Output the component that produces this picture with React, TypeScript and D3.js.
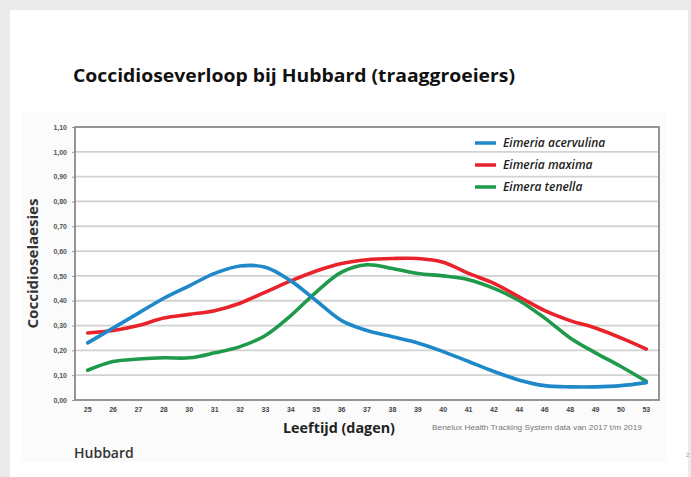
import React, { useEffect, useRef } from 'react';
import * as d3 from 'd3';

// leeftijd in dagen (categorische as)
const days = ['25', '26', '27', '28', '30', '31', '32', '33', '34', '35', '36', '37', '38', '39', '40', '41', '42', '44', '46', '48', '49', '50', '53'];

// coccidioselaesies per soort
const acervulina = [0.23, 0.29, 0.35, 0.41, 0.46, 0.51, 0.54, 0.535, 0.48, 0.40, 0.32, 0.28, 0.255, 0.23, 0.195, 0.155, 0.115, 0.08, 0.058, 0.053, 0.053, 0.058, 0.07];
const maxima = [0.27, 0.28, 0.30, 0.33, 0.345, 0.36, 0.39, 0.435, 0.48, 0.52, 0.55, 0.565, 0.57, 0.57, 0.555, 0.51, 0.47, 0.415, 0.36, 0.32, 0.29, 0.25, 0.205];
const tenella = [0.12, 0.155, 0.165, 0.17, 0.17, 0.19, 0.215, 0.26, 0.34, 0.435, 0.515, 0.545, 0.53, 0.51, 0.50, 0.485, 0.45, 0.40, 0.33, 0.25, 0.19, 0.135, 0.075];

const seriesNames = ['Eimeria acervulina', 'Eimeria maxima', 'Eimera tenella'];
const seriesColors = ['#1f88c8', '#e8232b', '#1e9a4a'];

const yTicks = [0, 0.1, 0.2, 0.3, 0.4, 0.5, 0.6, 0.7, 0.8, 0.9, 1.0, 1.1];

const App = () => {
    const svgRef = useRef(null);

    useEffect(() => {
        const svg = d3.select(svgRef.current);
        svg.selectAll('*').remove();

        const W = 691, H = 477;
        const plot = { left: 75, top: 127, right: 659, bottom: 400 };

        // page background and frame
        svg.append('rect').attr('width', W).attr('height', H).attr('fill', '#ebebeb');
        svg.append('rect').attr('x', 10).attr('y', 10).attr('width', 678).attr('height', H).attr('fill', '#ffffff');
        svg.append('rect').attr('x', 21).attr('y', 112).attr('width', 646).attr('height', 350).attr('fill', '#fbfbfb');

        // title
        svg.append('text')
           .attr('x', 73).attr('y', 82)
           .attr('font-family', 'Open Sans, sans-serif')
           .attr('font-weight', 'bold')
           .attr('font-size', 18)
           .attr('fill', '#111')
           .attr('textLength', 442)
           .attr('lengthAdjust', 'spacingAndGlyphs')
           .text('Coccidioseverloop bij Hubbard (traaggroeiers)');

        const x = d3.scaleBand().domain(days).range([plot.left, plot.right]);
        const y = d3.scaleLinear().domain([0, 1.1]).range([plot.bottom, plot.top]);

        svg.append('rect')
           .attr('x', plot.left).attr('y', plot.top)
           .attr('width', plot.right - plot.left).attr('height', plot.bottom - plot.top)
           .attr('fill', '#ffffff');

        // gridlines
        svg.append('g')
           .selectAll('line')
           .data(yTicks.slice(1, -1))
           .enter().append('line')
           .attr('x1', plot.left).attr('x2', plot.right)
           .attr('y1', d => y(d)).attr('y2', d => y(d))
           .attr('stroke', '#d2d2d2')
           .attr('stroke-width', 1.8);

        // y axis labels
        const yAxis = svg.append('g')
           .attr('transform', `translate(${plot.left},0)`)
           .call(d3.axisLeft(y).tickValues(yTicks).tickSize(3).tickFormat(d => d3.format('.2f')(d).replace('.', ',')));
        yAxis.select('.domain').remove();
        yAxis.selectAll('.tick line').attr('stroke', '#999');
        yAxis.selectAll('text')
             .attr('font-family', 'Liberation Sans, sans-serif')
             .attr('font-weight', 'bold')
             .attr('font-size', 7)
             .attr('fill', '#555')
             .attr('dx', -2);

        // x axis labels
        const xAxis = svg.append('g')
           .attr('transform', `translate(0,${plot.bottom})`)
           .call(d3.axisBottom(x).tickSize(0).tickPadding(7));
        xAxis.select('.domain').remove();
        xAxis.selectAll('text')
             .attr('font-family', 'Liberation Sans, sans-serif')
             .attr('font-weight', 'bold')
             .attr('font-size', 7)
             .attr('fill', '#444');

        // frame of plot area
        svg.append('rect')
           .attr('x', plot.left).attr('y', plot.top)
           .attr('width', plot.right - plot.left).attr('height', plot.bottom - plot.top)
           .attr('fill', 'none')
           .attr('stroke', '#8a8a8a')
           .attr('stroke-width', 1.8);

        // lines
        const allSeries = [acervulina, maxima, tenella];
        const line = d3.line()
            .x((d, i) => x(days[i]) + x.bandwidth() / 2)
            .y(d => y(d))
            .curve(d3.curveCatmullRom.alpha(0.5));

        // draw green first, then red, then blue on top
        [2, 1, 0].forEach(k => {
            svg.append('path')
               .datum(allSeries[k])
               .attr('d', line)
               .attr('fill', 'none')
               .attr('stroke', seriesColors[k])
               .attr('stroke-width', 3.6)
               .attr('stroke-linecap', 'round');
        });

        // legend
        const legend = svg.append('g');
        seriesNames.forEach((name, i) => {
            const ly = 143 + i * 22;
            legend.append('line')
                  .attr('x1', 475).attr('x2', 496)
                  .attr('y1', ly).attr('y2', ly)
                  .attr('stroke', seriesColors[i])
                  .attr('stroke-width', 3.5);
            legend.append('text')
                  .attr('x', 503).attr('y', ly + 4)
                  .attr('font-family', 'Open Sans, sans-serif')
                  .attr('font-style', 'italic')
                  .attr('font-weight', 600)
                  .attr('font-size', 12)
                  .attr('fill', '#222')
                  .text(name);
        });

        // axis titles
        svg.append('text')
           .attr('transform', `translate(38,${(plot.top + plot.bottom) / 2}) rotate(-90)`)
           .attr('text-anchor', 'middle')
           .attr('font-family', 'Open Sans, sans-serif')
           .attr('font-weight', 'bold')
           .attr('font-size', 14)
           .attr('fill', '#333')
           .attr('textLength', 130)
           .attr('lengthAdjust', 'spacingAndGlyphs')
           .text('Coccidioselaesies');

        svg.append('text')
           .attr('x', 339).attr('y', 433)
           .attr('text-anchor', 'middle')
           .attr('font-family', 'Open Sans, sans-serif')
           .attr('font-weight', 'bold')
           .attr('font-size', 15)
           .attr('fill', '#222')
           .attr('textLength', 112)
           .attr('lengthAdjust', 'spacingAndGlyphs')
           .text('Leeftijd (dagen)');

        svg.append('text')
           .attr('x', 432).attr('y', 430)
           .attr('font-family', 'Liberation Sans, sans-serif')
           .attr('font-size', 6.5)
           .attr('fill', '#777')
           .attr('textLength', 210)
           .attr('lengthAdjust', 'spacingAndGlyphs')
           .text('Benelux Health Tracking System data van 2017 t/m 2019');

        svg.append('text')
           .attr('x', 74).attr('y', 458)
           .attr('font-family', 'Open Sans, sans-serif')
           .attr('font-weight', 600)
           .attr('font-size', 14)
           .attr('fill', '#333')
           .text('Hubbard');

        svg.append('text')
           .attr('x', 686).attr('y', 457)
           .attr('font-family', 'Liberation Sans, sans-serif')
           .attr('font-size', 6)
           .attr('fill', '#999')
           .text('2');
    }, []);

    return (
        <svg ref={svgRef} width={691} height={477}
             style={{ position: 'absolute', left: 0, top: 0, display: 'block' }}></svg>
    );
};

export default App;
